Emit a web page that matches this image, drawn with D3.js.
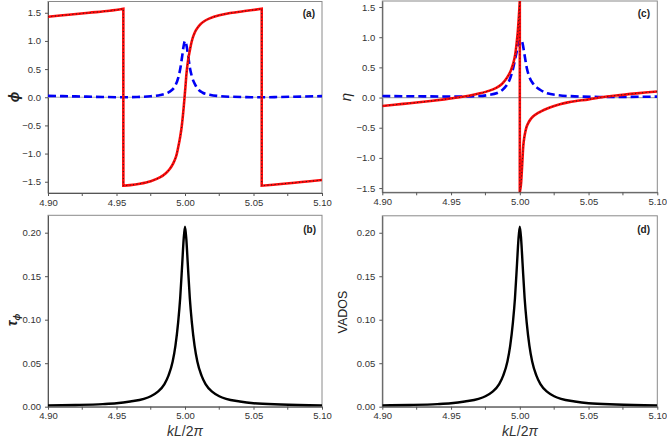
<!DOCTYPE html>
<html><head><meta charset="utf-8">
<script src="https://cdn.jsdelivr.net/npm/d3@7"></script>
<style>
body{margin:0;background:#fff;}
svg{display:block;}
text{font-family:"Liberation Sans",Arial,sans-serif;}
</style></head>
<body><svg id="c" width="667" height="447"></svg>
<script>
// ---------- data ----------
const xTicks = [4.90, 4.95, 5.00, 5.05, 5.10];
const xMinorTicks = [4.925, 4.975, 5.025, 5.075];
const phiTicks = [-1.5, -1.0, -0.5, 0.0, 0.5, 1.0, 1.5];
const etaTicks = [-1.5, -1.0, -0.5, 0.0, 0.5, 1.0, 1.5];
const tauTicks = [0.00, 0.05, 0.10, 0.15, 0.20];

// panel (a): phase phi (red), three branches with jumps
const phiBranch1 = [[4.900,1.43],[4.915,1.465],[4.930,1.50],[4.945,1.535],[4.955,1.57]];
const phiBranch2 = [[4.955,-1.57],[4.960,-1.56],[4.967,-1.535],[4.975,-1.49],[4.982,-1.42],[4.986,-1.35],
  [4.989,-1.27],[4.9915,-1.17],[4.9935,-1.05],[4.9951,-0.88],[4.9965,-0.70],[4.9976,-0.52],[4.9987,-0.27],
  [4.9995,-0.05],[5.0003,0.18],[5.0012,0.45],[5.0024,0.68],[5.0036,0.84],[5.0048,0.98],[5.006,1.08],
  [5.008,1.19],[5.011,1.29],[5.014,1.35],[5.018,1.40],[5.025,1.455],[5.033,1.495],[5.045,1.535],[5.056,1.57]];
const phiBranch3 = [[5.056,-1.57],[5.070,-1.54],[5.085,-1.505],[5.100,-1.47]];
// panel (a): blue dashed
const blueA = [[4.900,0.025],[4.920,0.015],[4.940,0.005],[4.955,0.0],[4.965,0.004],[4.975,0.018],
  [4.982,0.04],[4.987,0.075],[4.990,0.12],[4.993,0.21],[4.995,0.34],[4.9965,0.50],[4.998,0.74],
  [4.999,0.91],[5.000,1.00],[5.001,0.93],[5.002,0.79],[5.0036,0.52],[5.005,0.37],[5.0075,0.22],
  [5.010,0.13],[5.013,0.08],[5.018,0.045],[5.025,0.02],[5.035,0.008],[5.045,0.002],[5.056,0.0],
  [5.070,0.005],[5.085,0.012],[5.100,0.02]];

// panel (c): eta (red), two branches
const etaBranch1 = [[4.900,-0.14],[4.915,-0.105],[4.930,-0.07],[4.945,-0.03],[4.955,0.0],[4.963,0.03],
  [4.971,0.07],[4.978,0.115],[4.9832,0.165],[4.987,0.225],[4.9895,0.29],[4.9915,0.36],[4.9935,0.45],
  [4.9953,0.57],[4.9967,0.72],[4.9977,0.90],[4.9985,1.08],[4.9992,1.30],[5.0000,1.60]];
const etaBranch2 = [[5.0000,-1.57],[5.0008,-1.45],[5.0014,-1.25],[5.0020,-1.00],[5.0025,-0.81],
  [5.0032,-0.67],[5.0040,-0.57],[5.0050,-0.48],[5.0062,-0.42],[5.0075,-0.37],[5.0098,-0.31],
  [5.0125,-0.265],[5.015,-0.235],[5.0196,-0.185],[5.025,-0.14],[5.0292,-0.11],[5.035,-0.08],
  [5.040,-0.06],[5.050,-0.03],[5.058,0.0],[5.070,0.035],[5.085,0.07],[5.100,0.10]];
// panel (c): blue dashed
const blueC = [[4.900,0.025],[4.930,0.02],[4.955,0.015],[4.970,0.025],[4.978,0.045],[4.983,0.07],
  [4.987,0.12],[4.990,0.19],[4.993,0.32],[4.995,0.47],[4.997,0.68],[4.999,0.88],[5.0006,0.97],
  [5.002,0.90],[5.0035,0.70],[5.005,0.50],[5.007,0.34],[5.010,0.22],[5.0147,0.13],[5.020,0.07],
  [5.028,0.04],[5.040,0.02],[5.060,0.01],[5.080,0.012],[5.100,0.015]];

// panel (b): tau_phi ; panel (d): VADOS
const tauPhi = [[4.900,0.0015],[4.920,0.002],[4.940,0.003],[4.950,0.004],[4.960,0.006],[4.970,0.009],
  [4.975,0.012],[4.980,0.017],[4.985,0.026],[4.988,0.036],[4.991,0.052],[4.993,0.070],[4.995,0.097],
  [4.9965,0.125],[4.998,0.165],[4.999,0.192],[5.000,0.207],[5.001,0.192],[5.002,0.165],[5.0035,0.125],
  [5.005,0.097],[5.007,0.070],[5.009,0.052],[5.012,0.036],[5.015,0.026],[5.020,0.017],[5.025,0.012],
  [5.030,0.009],[5.040,0.006],[5.050,0.004],[5.070,0.0025],[5.100,0.0015]];
const vados = [[4.900,0.0015],[4.920,0.002],[4.940,0.003],[4.950,0.004],[4.960,0.006],[4.970,0.009],
  [4.975,0.012],[4.980,0.017],[4.985,0.026],[4.988,0.036],[4.991,0.052],[4.993,0.070],[4.995,0.097],
  [4.9965,0.125],[4.998,0.165],[4.999,0.192],[5.000,0.207],[5.001,0.192],[5.002,0.165],[5.0035,0.125],
  [5.005,0.097],[5.007,0.070],[5.009,0.052],[5.012,0.036],[5.015,0.026],[5.020,0.017],[5.025,0.012],
  [5.030,0.009],[5.040,0.006],[5.050,0.004],[5.070,0.0025],[5.100,0.0015]];

// ---------- drawing ----------
const svg = d3.select("#c");
const xDomain = [4.9, 5.1];

function panel(opts){
  const {x0,x1,y0,y1,yDomain,yTicks,yFmt,id} = opts;
  const x = d3.scaleLinear().domain(xDomain).range([x0,x1]);
  const y = d3.scaleLinear().domain(yDomain).range([y1,y0]);
  const g = svg.append("g");
  g.append("clipPath").attr("id","clip"+id).append("rect")
    .attr("x",x0).attr("y",y0).attr("width",x1-x0).attr("height",y1-y0);
  g.append("rect").attr("x",x0).attr("y",y0).attr("width",x1-x0).attr("height",y1-y0)
    .attr("fill","none").attr("stroke","#8a8a8a").attr("stroke-width",1);
  const xa = g.append("g").attr("transform",`translate(0,${y1})`)
    .call(d3.axisBottom(x).tickValues(xTicks).tickFormat(d3.format(".2f")).tickSizeInner(3).tickSizeOuter(0).tickPadding(3));
  xa.append("g").selectAll("line").data(xMinorTicks).join("line")
    .attr("x1",d=>x(d)).attr("x2",d=>x(d)).attr("y1",0).attr("y2",3).attr("stroke","#555");
  const ya = g.append("g").attr("transform",`translate(${x0},0)`)
    .call(d3.axisLeft(y).tickValues(yTicks).tickFormat(d3.format(yFmt)).tickSizeInner(3).tickSizeOuter(0).tickPadding(4));
  [xa,ya].forEach(a=>{
    a.select(".domain").attr("stroke","#555");
    a.selectAll(".tick line").attr("stroke","#555");
    a.selectAll("text").attr("font-size","9.5px").attr("fill","#333")
      .attr("font-family","'Liberation Sans',Arial,sans-serif");
  });
  const plot = g.append("g").attr("clip-path",`url(#clip${id})`);
  return {x,y,g,plot};
}

function branchPath(line, branches){
  return branches.map((b,i)=>{ const s = line(b); return i===0 ? s : "L" + s.slice(1); }).join("");
}

const A = panel({x0:48,x1:322,y0:1.5,y1:193,yDomain:[-1.7,1.7],yTicks:phiTicks,yFmt:".1f",id:"a"});
const C = panel({x0:382.3,x1:657.3,y0:1,y1:192.3,yDomain:[-1.57,1.6],yTicks:etaTicks,yFmt:".1f",id:"c"});
const B = panel({x0:48,x1:322,y0:215.3,y1:406.7,yDomain:[0,0.22],yTicks:tauTicks,yFmt:".2f",id:"b"});
const D = panel({x0:382.3,x1:657.3,y0:215.8,y1:406.7,yDomain:[0,0.2195],yTicks:tauTicks,yFmt:".2f",id:"d"});

function drawPhase(P, blue, branches){
  const lineB = d3.line().x(d=>P.x(d[0])).y(d=>P.y(d[1])).curve(d3.curveMonotoneX);
  const lineR = d3.line().x(d=>P.x(d[0])).y(d=>P.y(d[1])).curve(d3.curveCatmullRom.alpha(0.5));
  P.plot.append("line").attr("x1",P.x(4.9)).attr("x2",P.x(5.1)).attr("y1",P.y(0)).attr("y2",P.y(0))
    .attr("stroke","#aaaaaa").attr("stroke-width",1.2);
  P.plot.append("path").attr("d",lineB(blue)).attr("fill","none").attr("stroke","#0000f5")
    .attr("stroke-width",2.6).attr("stroke-dasharray","8,4");
  const d = branchPath(lineR, branches);
  P.plot.append("path").attr("d",d).attr("fill","none").attr("stroke","#ff0a0a").attr("stroke-width",2.6);
  P.plot.append("path").attr("d",d).attr("fill","none").attr("stroke","#222").attr("stroke-width",1)
    .attr("stroke-dasharray","1,2.5");
}
drawPhase(A, blueA, [phiBranch1, phiBranch2, phiBranch3]);
drawPhase(C, blueC, [etaBranch1, etaBranch2]);

function drawPeak(P, data){
  const line = d3.line().x(d=>P.x(d[0])).y(d=>P.y(d[1])).curve(d3.curveMonotoneX);
  P.plot.append("path").attr("d",line(data)).attr("fill","none").attr("stroke","#000").attr("stroke-width",2.4);
}
drawPeak(B, tauPhi);
drawPeak(D, vados);

// panel letters
[["(a)",315,17],["(c)",650,17],["(b)",316,233],["(d)",650,233]].forEach(([t,x,y])=>{
  svg.append("text").attr("x",x).attr("y",y).attr("text-anchor","end").attr("font-size","10px")
    .attr("font-weight","bold").attr("fill","#222").text(t);
});

// y labels
function ylab(x,y){ return svg.append("text").attr("transform",`translate(${x},${y}) rotate(-90)`).attr("text-anchor","middle"); }
ylab(19,97).attr("font-size","14px").attr("font-style","italic").attr("font-weight","bold").attr("fill","#222")
  .attr("font-family","'DejaVu Serif','Liberation Serif',serif").text("ϕ");
ylab(351,97).attr("font-size","15px").attr("font-style","italic").attr("fill","#222")
  .attr("font-family","'DejaVu Serif','Liberation Serif',serif").text("η");
const tl = ylab(17,320).attr("font-size","14px").attr("font-style","italic").attr("font-weight","bold").attr("fill","#222")
  .attr("font-family","'DejaVu Serif','Liberation Serif',serif");
tl.append("tspan").text("τ");
tl.append("tspan").attr("font-size","9px").attr("dy","3").text("ϕ");
ylab(347,312).attr("font-size","12.5px").attr("fill","#222").text("VADOS");

// x labels
function xlab(cx){
  const t = svg.append("text").attr("x",cx).attr("y",436).attr("text-anchor","middle")
    .attr("font-size","14px").attr("fill","#333").attr("font-family","'Liberation Serif','DejaVu Serif',serif");
  t.append("tspan").attr("font-style","italic").text("kL");
  t.append("tspan").text("/2");
  t.append("tspan").attr("font-style","italic").text("π");
}
xlab(185); xlab(520);
</script></body></html>
